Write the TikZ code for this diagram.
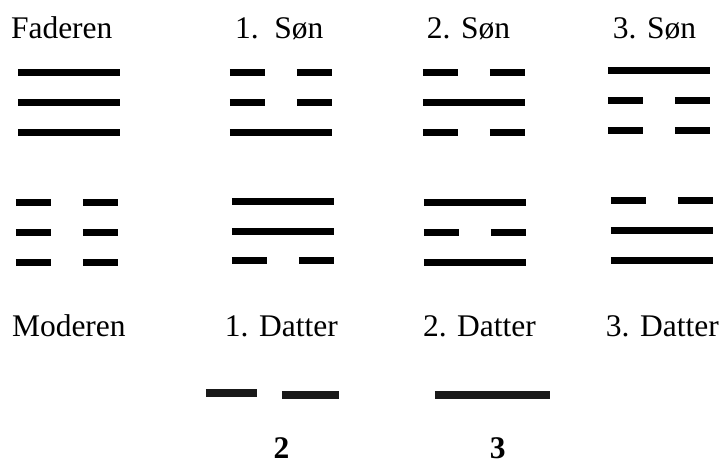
\documentclass[tikz,border=0pt]{standalone}
\usepackage{fontspec}
\setmainfont{Liberation Serif}
\usepackage{tikz}
\tikzset{
  yao/.style={line width=3.5pt,draw=black,line cap=butt},
  yaobig/.style={line width=4pt,draw=black!90,line cap=butt},
  lbl/.style={anchor=base west,inner sep=0pt,outer sep=0pt},
  numlbl/.style={anchor=base west,inner sep=0pt,outer sep=0pt,font=\fontsize{15.75}{19}\selectfont\bfseries}
}
% one line of a trigram: x, y, 1 = whole / 0 = broken
\newcommand{\yaoline}[3]{%
  \ifnum#3=1
    \draw[yao] (#1,#2) -- ++(102,0);
  \else
    \draw[yao] (#1,#2) -- ++(35,0);
    \draw[yao] (#1+67,#2) -- ++(35,0);
  \fi}

\begin{document}
\begin{tikzpicture}[x=0.5pt,y=-0.5pt,font=\fontsize{15.75}{19}\selectfont]
  \useasboundingbox (0,0) rectangle (720,462);
  % labels
  \node[lbl] (fader) at (11,38.3) {Faderen};
  \node[lbl] (son1) at (235,38.3) {1.\ \ Søn};
  \node[lbl] (son2) at (427,38.5) {2. Søn};
  \node[lbl] (son3) at (613,38.5) {3. Søn};
  \node[lbl] (moder) at (12,336) {Moderen};
  \node[lbl] (datter1) at (225,336) {1. Datter};
  \node[lbl] (datter2) at (423,336) {2. Datter};
  \node[lbl] (datter3) at (606,336) {3. Datter};
  \node[numlbl] (num2) at (273.5,458) {2};
  \node[numlbl] (num3) at (490,458) {3};
  % upper trigrams
  \foreach \y/\t in {72/1,102/1,132/1} {\yaoline{18}{\y}{\t}}
  \foreach \y/\t in {72/0,102/0,132/1} {\yaoline{230}{\y}{\t}}
  \foreach \y/\t in {72/0,102/1,132/0} {\yaoline{423}{\y}{\t}}
  \foreach \y/\t in {70/1,100/0,130/0} {\yaoline{608}{\y}{\t}}
  % lower trigrams
  \foreach \y/\t in {202/0,232/0,262/0} {\yaoline{16}{\y}{\t}}
  \foreach \y/\t in {201/1,231/1,260.5/0} {\yaoline{232}{\y}{\t}}
  \foreach \y/\t in {202/1,232.5/0,262.5/1} {\yaoline{424}{\y}{\t}}
  \foreach \y/\t in {200/0,230/1,260/1} {\yaoline{611}{\y}{\t}}
  % single lines
  \draw[yaobig] (206,393) -- (257,393);
  \draw[yaobig] (282,395) -- (339,395);
  \draw[yaobig] (435,395) -- (550,395);
\end{tikzpicture}
\end{document}
